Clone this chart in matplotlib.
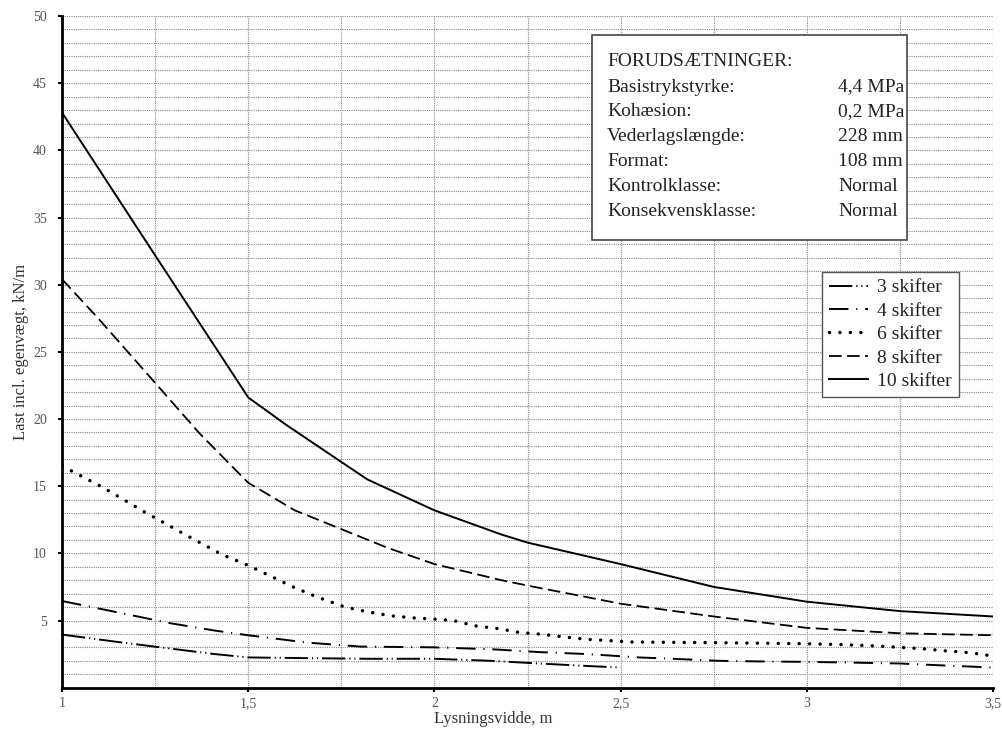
import numpy as np
import matplotlib
matplotlib.use('Agg')
import matplotlib.pyplot as plt

plt.rcParams['font.family'] = ['Liberation Serif', 'DejaVu Serif']

# lysningsvidde (m) og last (kN/m) aflaest fra kurverne
x_3 = [1.0, 1.15, 1.25, 1.41, 1.5, 1.65, 1.82, 2.0, 2.15, 2.28, 2.42, 2.5]
y_3 = [3.95, 3.4, 3.05, 2.5, 2.25, 2.2, 2.15, 2.15, 2.0, 1.8, 1.6, 1.5]

x_4 = [1.0, 1.15, 1.29, 1.41, 1.5, 1.66, 1.8, 2.0, 2.16, 2.28, 2.41, 2.55,
       2.64, 2.76, 2.88, 3.0, 3.13, 3.25, 3.37, 3.5]
y_4 = [6.45, 5.6, 4.8, 4.25, 3.9, 3.35, 3.06, 3.0, 2.85, 2.65, 2.5, 2.25,
       2.15, 2.0, 1.95, 1.92, 1.86, 1.8, 1.65, 1.5]

x_6 = [1.0, 1.11, 1.22, 1.33, 1.43, 1.5, 1.56, 1.62, 1.68, 1.73, 1.76, 1.82,
       1.88, 1.94, 2.0, 2.05, 2.11, 2.17, 2.23, 2.29, 2.35, 2.41, 2.47, 2.53,
       2.75, 3.0, 3.1, 3.19, 3.25, 3.31, 3.37, 3.44, 3.5]
y_6 = [16.5, 14.9, 13.1, 11.4, 9.9, 9.1, 8.3, 7.5, 6.8, 6.3, 6.0, 5.65,
       5.36, 5.2, 5.1, 5.0, 4.6, 4.4, 4.1, 3.97, 3.77, 3.6, 3.5, 3.4,
       3.35, 3.27, 3.2, 3.1, 3.0, 2.9, 2.75, 2.6, 2.35]

x_8 = [1.0, 1.1, 1.24, 1.37, 1.5, 1.625, 1.75, 1.875, 2.0, 2.18, 2.25, 2.5,
       2.75, 3.0, 3.25, 3.5]
y_8 = [30.4, 27.4, 23.0, 18.9, 15.25, 13.2, 11.8, 10.4, 9.2, 8.0, 7.6, 6.25,
       5.3, 4.45, 4.05, 3.9]

x_10 = [1.0, 1.24, 1.5, 1.6, 1.75, 1.82, 2.0, 2.18, 2.25, 2.5, 2.75, 3.0,
        3.25, 3.5]
y_10 = [42.8, 32.6, 21.6, 19.6, 16.8, 15.5, 13.2, 11.4, 10.8, 9.2, 7.5, 6.4,
        5.7, 5.3]

x_ticks = [1, 1.5, 2, 2.5, 3, 3.5]
x_ticklabels = ['1', '1,5', '2', '2,5', '3', '3,5']
y_ticks = [5, 10, 15, 20, 25, 30, 35, 40, 45, 50]

info_labels = ['Basistrykstyrke:', 'Kohæsion:', 'Vederlagslængde:', 'Format:',
               'Kontrolklasse:', 'Konsekvensklasse:']
info_values = ['4,4 MPa', '0,2 MPa', '228 mm', '108 mm', 'Normal', 'Normal']

fig = plt.figure(figsize=(10.02, 7.30), dpi=100)
ax = fig.add_axes([0.062, 0.058, 0.929, 0.920])

ax.set_xlim(1, 3.5)
ax.set_ylim(0, 50)

# gitter (major og minor i samme stil)
ax.set_xticks(np.arange(1, 3.51, 0.25), minor=True)
ax.set_yticks(np.arange(0, 50.1, 1), minor=True)
ax.set_xticks(x_ticks)
ax.set_yticks(y_ticks)
ax.grid(which='both', color='#8a8a8a', linestyle=(0, (1, 1)), linewidth=0.8)
ax.set_axisbelow(True)

l3, = ax.plot(x_3, y_3, color='black', lw=1.4,
              linestyle=(0, (12, 2, 0.6, 2, 0.6, 2)), label='3 skifter')
l4, = ax.plot(x_4, y_4, color='black', lw=1.4,
              linestyle=(0, (10, 4, 0.6, 4)), label='4 skifter')
l6, = ax.plot(x_6, y_6, color='black', lw=2.5,
              linestyle=(0, (0.01, 3)), dash_capstyle='round', label='6 skifter')
l8, = ax.plot(x_8, y_8, color='black', lw=1.3,
              linestyle=(0, (7, 3)), label='8 skifter')
l10, = ax.plot(x_10, y_10, color='black', lw=1.4, label='10 skifter')

ax.spines['top'].set_visible(False)
ax.spines['right'].set_visible(False)
ax.spines['left'].set_linewidth(2)
ax.spines['bottom'].set_linewidth(2)

ax.set_xticklabels(x_ticklabels)
ax.tick_params(which='major', length=3, width=1.5, labelsize=10,
               labelcolor='#555555', pad=8)
ax.tick_params(axis='x', which='major', pad=4)
ax.tick_params(which='minor', length=0)

ax.set_xlabel('Lysningsvidde, m', fontsize=12, color='#333333')
ax.xaxis.set_label_coords(0.463, -0.035)
ax.set_ylabel('Last incl. egenvægt, kN/m', fontsize=12, color='#333333')
ax.yaxis.set_label_coords(-0.036, 0.5)

# forudsaetninger
ax.add_patch(plt.Rectangle((592, 730 - 240), 907 - 592, 240 - 35,
                           transform=None, fill=True, facecolor='white',
                           edgecolor='#444444', lw=1.2, zorder=5))
ax.text(607, 730 - 62, 'FORUDSÆTNINGER:', transform=None, fontsize=14,
        va='center', ha='left', zorder=6, color='#222222')
for i, (lab, val) in enumerate(zip(info_labels, info_values)):
    yy = 730 - (87 + i * 24.8)
    ax.text(607, yy, lab, transform=None, fontsize=14, va='center',
            ha='left', zorder=6, color='#222222')
    ax.text(838, yy, val, transform=None, fontsize=14, va='center',
            ha='left', zorder=6, color='#222222')

leg = ax.legend(handles=[l3, l4, l6, l8, l10], loc='upper left',
                bbox_to_anchor=((822 - 62) / 931, (688 - 272) / 672),
                fontsize=14, frameon=True, fancybox=False, framealpha=1,
                edgecolor='#555555', handlelength=2.0, handletextpad=0.5,
                borderpad=0.35, labelspacing=0.3, borderaxespad=0)
leg.get_frame().set_linewidth(1.0)
for t in leg.get_texts():
    t.set_color('#222222')

fig.savefig('out.png', dpi=100)
